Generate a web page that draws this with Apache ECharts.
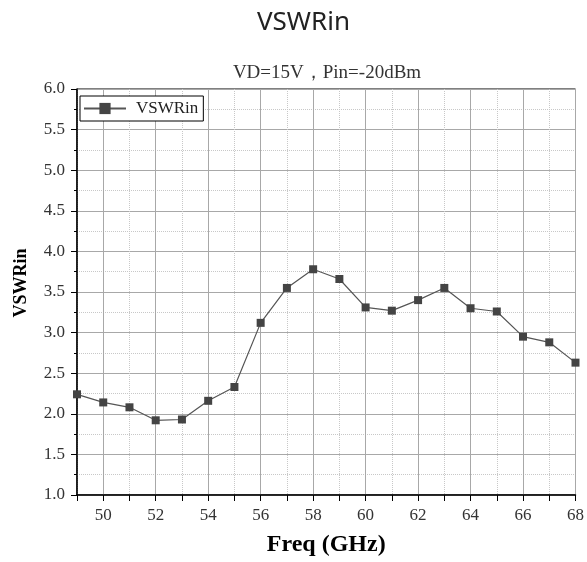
<!DOCTYPE html>
<html>
<head>
<meta charset="utf-8">
<script src="https://cdn.jsdelivr.net/npm/echarts@6/dist/echarts.min.js"></script>
<style>html,body{margin:0;padding:0;background:#fff;}#c{width:587px;height:562px;}</style>
</head>
<body>
<div id="c"></div>
<script>
var freq = [49,50,51,52,53,54,55,56,57,58,59,60,61,62,63,64,65,66,67,68];
var vswrin = [2.24,2.14,2.08,1.92,1.93,2.16,2.33,3.12,3.55,3.78,3.66,3.31,3.27,3.40,3.55,3.30,3.26,2.95,2.88,2.63];
var yTicks = [1.0,1.5,2.0,2.5,3.0,3.5,4.0,4.5,5.0,5.5,6.0];
var seriesName = 'VSWRin';
var subtitle = 'VD=15V\uFF0CPin=-20dBm';

var points = freq.map(function(f,i){ return [f, vswrin[i]]; });
var serif = 'Liberation Serif';
var chart = echarts.init(document.getElementById('c'), null, {renderer:'canvas'});
chart.setOption({
  animation:false,
  backgroundColor:'#fff',
  title:[
    {text:'VSWRin', left:252, top:5, textStyle:{fontFamily:'Noto Sans', fontSize:26, fontWeight:'normal', color:'#222'}},
    {text:subtitle, left:322, top:59, textAlign:'center', textStyle:{fontFamily:serif, fontSize:19, fontWeight:'normal', color:'#333'}}
  ],
  legend:{
    left:80, top:96, orient:'vertical',
    data:[seriesName],
    backgroundColor:'#fff', borderColor:'#000', borderWidth:1,
    padding:[4,5,4,3], itemWidth:42, itemHeight:14,
    textStyle:{fontFamily:serif, fontSize:17, color:'#222', padding:[0,0,0,5]}
  },
  grid:{left:77, top:89, right:8, bottom:67, show:true, borderColor:'#000', borderWidth:1, containLabel:false},
  xAxis:[{
    type:'value', min:49, max:68, interval:1, position:'bottom',
    name:'Freq (GHz)', nameLocation:'middle', nameGap:38,
    nameTextStyle:{fontFamily:serif, fontSize:24, fontWeight:'bold', color:'#000'},
    axisLine:{show:true, onZero:false, lineStyle:{color:'#000', width:1.5}},
    axisTick:{show:true, inside:false, length:6, lineStyle:{color:'#000'}},
    axisLabel:{margin:12, fontFamily:serif, fontSize:17, color:'#333',
      formatter:function(v){ return (v % 2 === 0) ? String(v) : ''; }},
    splitLine:{show:true, lineStyle:{color:['rgba(0,0,0,0)','#a8a8a8'], width:1, type:'solid'}}
  },{
    type:'value', min:49, max:68, interval:1, position:'bottom',
    axisLine:{show:false}, axisTick:{show:false}, axisLabel:{show:false},
    splitLine:{show:true, lineStyle:{color:['#c8c8c8','rgba(0,0,0,0)'], width:1, type:'dotted'}}
  }],
  yAxis:{
    type:'value', min:1, max:6, interval:0.5,
    name:'VSWRin', nameLocation:'middle', nameGap:47,
    nameTextStyle:{fontFamily:serif, fontSize:18, fontWeight:'bold', color:'#000', padding:[0,0,0,18]},
    axisLine:{show:true, onZero:false, lineStyle:{color:'#000', width:1.5}},
    axisTick:{show:true, inside:false, length:6, lineStyle:{color:'#000'}},
    minorTick:{show:true, splitNumber:2, length:3, lineStyle:{color:'#000'}},
    axisLabel:{margin:12, fontFamily:serif, fontSize:17, color:'#333',
      formatter:function(v){ return v.toFixed(1); }},
    splitLine:{show:true, lineStyle:{color:'#a8a8a8', width:1}},
    minorSplitLine:{show:true, lineStyle:{color:'#c8c8c8', width:1, type:'dotted'}}
  },
  series:[{
    name:seriesName, type:'line', xAxisIndex:0, data:points,
    symbol:'rect', symbolSize:8, clip:true,
    itemStyle:{color:'#444'},
    lineStyle:{color:'#555', width:1.2}
  }]
});
</script>
</body>
</html>
